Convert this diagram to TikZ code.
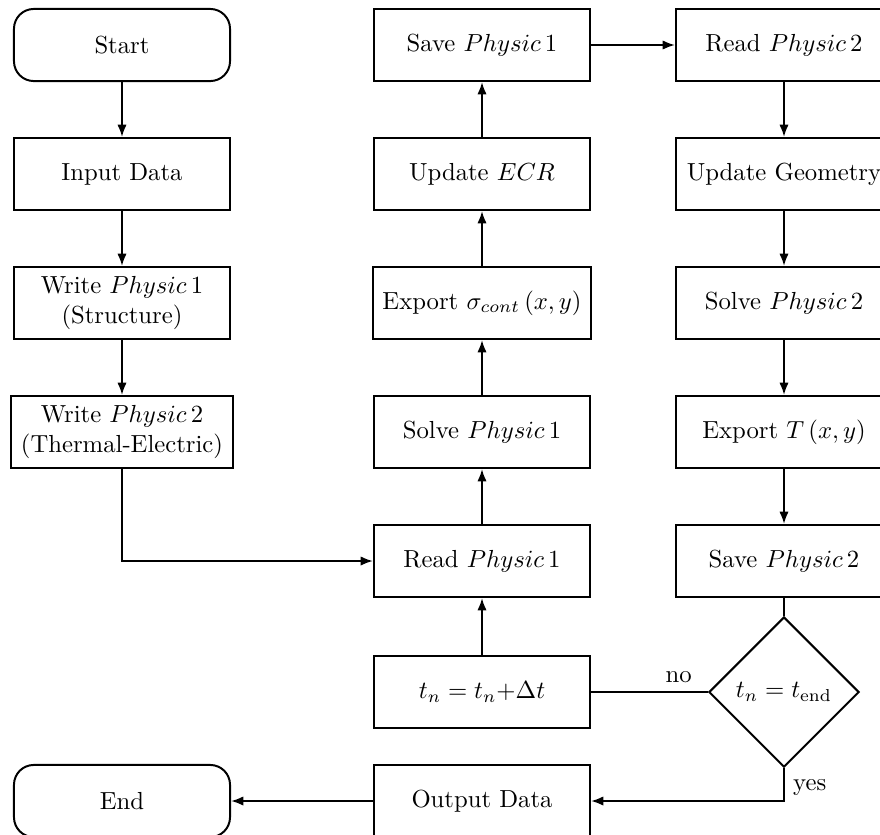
\documentclass[tikz,border=0pt]{standalone}
\usetikzlibrary{shapes.geometric,arrows.meta}
\begin{document}
\begin{tikzpicture}[x=0.405pt,y=-0.405pt,
  box/.style={draw,thick,rectangle,minimum width=87.5pt,minimum height=29.2pt,inner xsep=4pt,align=center},
  term/.style={box,rounded corners=8pt},
  decide/.style={draw,thick,diamond,minimum width=60.8pt,minimum height=60.8pt,inner sep=0pt},
  conn/.style={thick},
  arr/.style={thick,-{Latex[length=5pt,width=3.8pt]}}]
\useasboundingbox (0,0) rectangle (880,834);
% column 1
\node[term] (start) at (122,45) {Start};
\node[box] (input) at (122,174) {Input Data};
\node[box] (w1) at (122,303) {Write $Physic\,1$\\(Structure)};
\node[box] (w2) at (122,432) {Write $Physic\,2$\\(Thermal-Electric)};
\node[term] (end) at (122,801) {End};
% column 2
\node[box] (save1) at (482,45) {Save $Physic\,1$};
\node[box] (ecr) at (482,174) {Update $ECR$};
\node[box] (exps) at (482,303) {Export $\sigma_{cont}\left(x,y\right)$};
\node[box] (solve1) at (482,432) {Solve $Physic\,1$};
\node[box] (read1) at (482,561) {Read $Physic\,1$};
\node[box] (tn) at (482,692) {$t_n = t_n{+}\Delta t$};
\node[box] (out) at (482,801) {Output Data};
% column 3
\node[box] (read2) at (784,45) {Read $Physic\,2$};
\node[box] (geo) at (784,174) {Update Geometry};
\node[box] (solve2) at (784,303) {Solve $Physic\,2$};
\node[box] (expT) at (784,432) {Export $T\left(x,y\right)$};
\node[box] (save2) at (784,561) {Save $Physic\,2$};
\node[decide] (dec) at (784,692) {$t_n = t_{\mathrm{end}}$};
% connectors
\draw[arr] (start) -- (input);
\draw[arr] (input) -- (w1);
\draw[arr] (w1) -- (w2);
\draw[arr] (w2.south) |- (read1.west);
\draw[arr] (read1) -- (solve1);
\draw[arr] (solve1) -- (exps);
\draw[arr] (exps) -- (ecr);
\draw[arr] (ecr) -- (save1);
\draw[arr] (save1) -- (read2);
\draw[arr] (read2) -- (geo);
\draw[arr] (geo) -- (solve2);
\draw[arr] (solve2) -- (expT);
\draw[arr] (expT) -- (save2);
\draw[conn] (save2) -- (dec);
\draw[conn] (dec.west) -- node[above,pos=0.25] {no} (tn.east);
\draw[arr] (tn) -- (read1);
\draw[arr] (dec.south) |- node[pos=0.3,right] {yes} (out.east);
\draw[arr] (out) -- (end);
\end{tikzpicture}
\end{document}
